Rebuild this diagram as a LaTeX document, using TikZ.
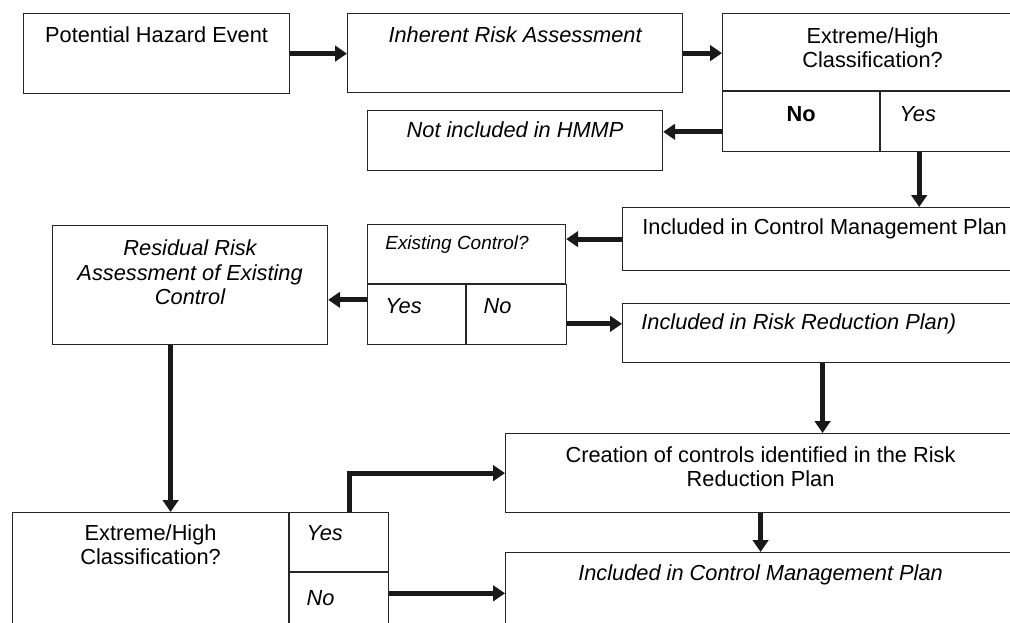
\documentclass[tikz,border=0pt]{standalone}
\usepackage{fontspec}
\setmainfont{Liberation Sans}
\usetikzlibrary{arrows.meta,positioning}
\tikzset{
  frame/.style = {draw=black!85, line width=0.7pt, inner sep=0pt, anchor=north west},
  txt/.style   = {inner sep=0pt, align=center, anchor=base, font=\fontsize{12.4}{14.2}\selectfont},
  ltxt/.style  = {txt, anchor=base west},
  it/.style    = {font=\fontsize{12.4}{14.2}\selectfont\itshape},
  tedge/.style = {draw=black!90, line width=2.9pt, -{Triangle[length=6.8pt,width=8.8pt]}}
}

\begin{document}
\begin{tikzpicture}[x=0.02cm, y=-0.02cm]
\clip (0,0) rectangle (1010,622);
%boxes
\node[frame, minimum width=5.32cm, minimum height=1.6cm] (hazard) at (23,13) {};
\node[frame, minimum width=6.7cm, minimum height=1.58cm] (inherent) at (347,13) {};
\node[frame, minimum width=6cm, minimum height=1.54cm] (cls) at (722,13) {};
\node[frame, minimum width=3.14cm, minimum height=1.2cm] (clsno) at (cls.south west) {};
\node[frame, minimum width=2.86cm, minimum height=1.2cm] (clsyes) at (clsno.north east) {};
\node[frame, minimum width=5.9cm, minimum height=1.2cm] (hmmp) at (367,110) {};
\node[frame, minimum width=8cm, minimum height=1.26cm] (ccmp) at (622,207) {};
\node[frame, minimum width=3.96cm, minimum height=1.18cm] (exist) at (367,224) {};
\node[frame, minimum width=1.96cm, minimum height=1.2cm] (existyes) at (exist.south west) {};
\node[frame, minimum width=2cm, minimum height=1.2cm] (existno) at (existyes.north east) {};
\node[frame, minimum width=5.5cm, minimum height=2.38cm] (residual) at (52,225) {};
\node[frame, minimum width=8cm, minimum height=1.18cm] (rrp) at (622,303) {};
\node[frame, minimum width=10.2cm, minimum height=1.58cm] (create) at (505,433) {};
\node[frame, minimum width=10.2cm, minimum height=1.8cm] (final) at (505,552) {};
\node[frame, minimum width=5.52cm, minimum height=2.4cm] (cls2) at (12,512) {};
\node[frame, minimum width=1.98cm, minimum height=1.18cm] (cls2yes) at (cls2.north east) {};
\node[frame, minimum width=1.98cm, minimum height=1.22cm] (cls2no) at (cls2yes.south west) {};

%texts (multi-line ones sit on their last line)
\node[txt] (hazardtxt) at ([yshift=-0.6cm]hazard.north) {Potential Hazard Event};
\node[txt, it] (inherenttxt) at ([yshift=-0.6cm]inherent.north) {Inherent Risk Assessment};
\node[txt] (clstxt) at ([yshift=-1.1cm]cls.north) {Extreme/High\\Classification?};
\node[txt, font=\fontsize{12.4}{14.2}\selectfont\bfseries] (clsnotxt) at ([yshift=-0.6cm]clsno.north) {No};
\node[ltxt, it] (clsyestxt) at ([xshift=0.38cm, yshift=-0.6cm]clsyes.north west) {Yes};
\node[txt, it] (hmmptxt) at ([yshift=-0.56cm]hmmp.north) {Not included in HMMP};
\node[ltxt] (ccmptxt) at ([xshift=0.4cm, yshift=-0.56cm]ccmp.north west) {Included in Control Management Plan};
\node[ltxt, font=\fontsize{10.8}{13}\selectfont\itshape] (existtxt) at ([xshift=0.36cm, yshift=-0.52cm]exist.north west) {Existing Control?};
\node[ltxt, it] (existyestxt) at ([xshift=0.36cm, yshift=-0.58cm]existyes.north west) {Yes};
\node[ltxt, it] (existnotxt) at ([xshift=0.34cm, yshift=-0.58cm]existno.north west) {No};
\node[txt, it] (residualtxt) at ([yshift=-1.6cm]residual.north) {Residual Risk\\Assessment of Existing\\Control};
\node[ltxt, it] (rrptxt) at ([xshift=0.38cm, yshift=-0.54cm]rrp.north west) {Included in Risk Reduction Plan)};
\node[txt] (createtxt) at ([yshift=-1.08cm]create.north) {Creation of controls identified in the Risk\\Reduction Plan};
\node[txt, it] (finaltxt) at ([yshift=-0.56cm]final.north) {Included in Control Management Plan};
\node[txt] (cls2txt) at ([yshift=-1.06cm]cls2.north) {Extreme/High\\Classification?};
\node[ltxt, it] (cls2yestxt) at ([xshift=0.34cm, yshift=-0.56cm]cls2yes.north west) {Yes};
\node[ltxt, it] (cls2notxt) at ([xshift=0.34cm, yshift=-0.66cm]cls2no.north west) {No};

%paths
\path[tedge] (hazard.east) -- (hazard.east -| inherent.west);
\path[tedge] (inherent.east) -- (inherent.east -| cls.west);
\path[tedge] ([yshift=-0.2cm]clsno.west) -- ([yshift=-0.2cm]clsno.west -| hmmp.east);
\path[tedge] ([xshift=0.78cm]clsyes.south west) -- ([xshift=0.78cm]clsyes.south west |- ccmp.north);
\path[tedge] (ccmp.west) -- (ccmp.west -| exist.east);
\path[tedge] ([yshift=0.3cm]existyes.west) -- ([yshift=0.3cm]existyes.west -| residual.east);
\path[tedge] ([yshift=-0.18cm]existno.east) -- ([yshift=-0.18cm]existno.east -| rrp.west);
\path[tedge] (rrp.south) -- (rrp.south |- create.north);
\path[tedge] (create.south) -- (final.north);
\path[tedge] ([xshift=0.4cm]cls2.north |- residual.south) -- ([xshift=0.4cm]cls2.north);
\path[tedge] ([xshift=0.2cm]cls2yes.north) |- (create.west);
\path[tedge] ([yshift=0.2cm]cls2no.east) -- ([yshift=0.2cm]cls2no.east -| final.west);

\end{tikzpicture}
\end{document}
